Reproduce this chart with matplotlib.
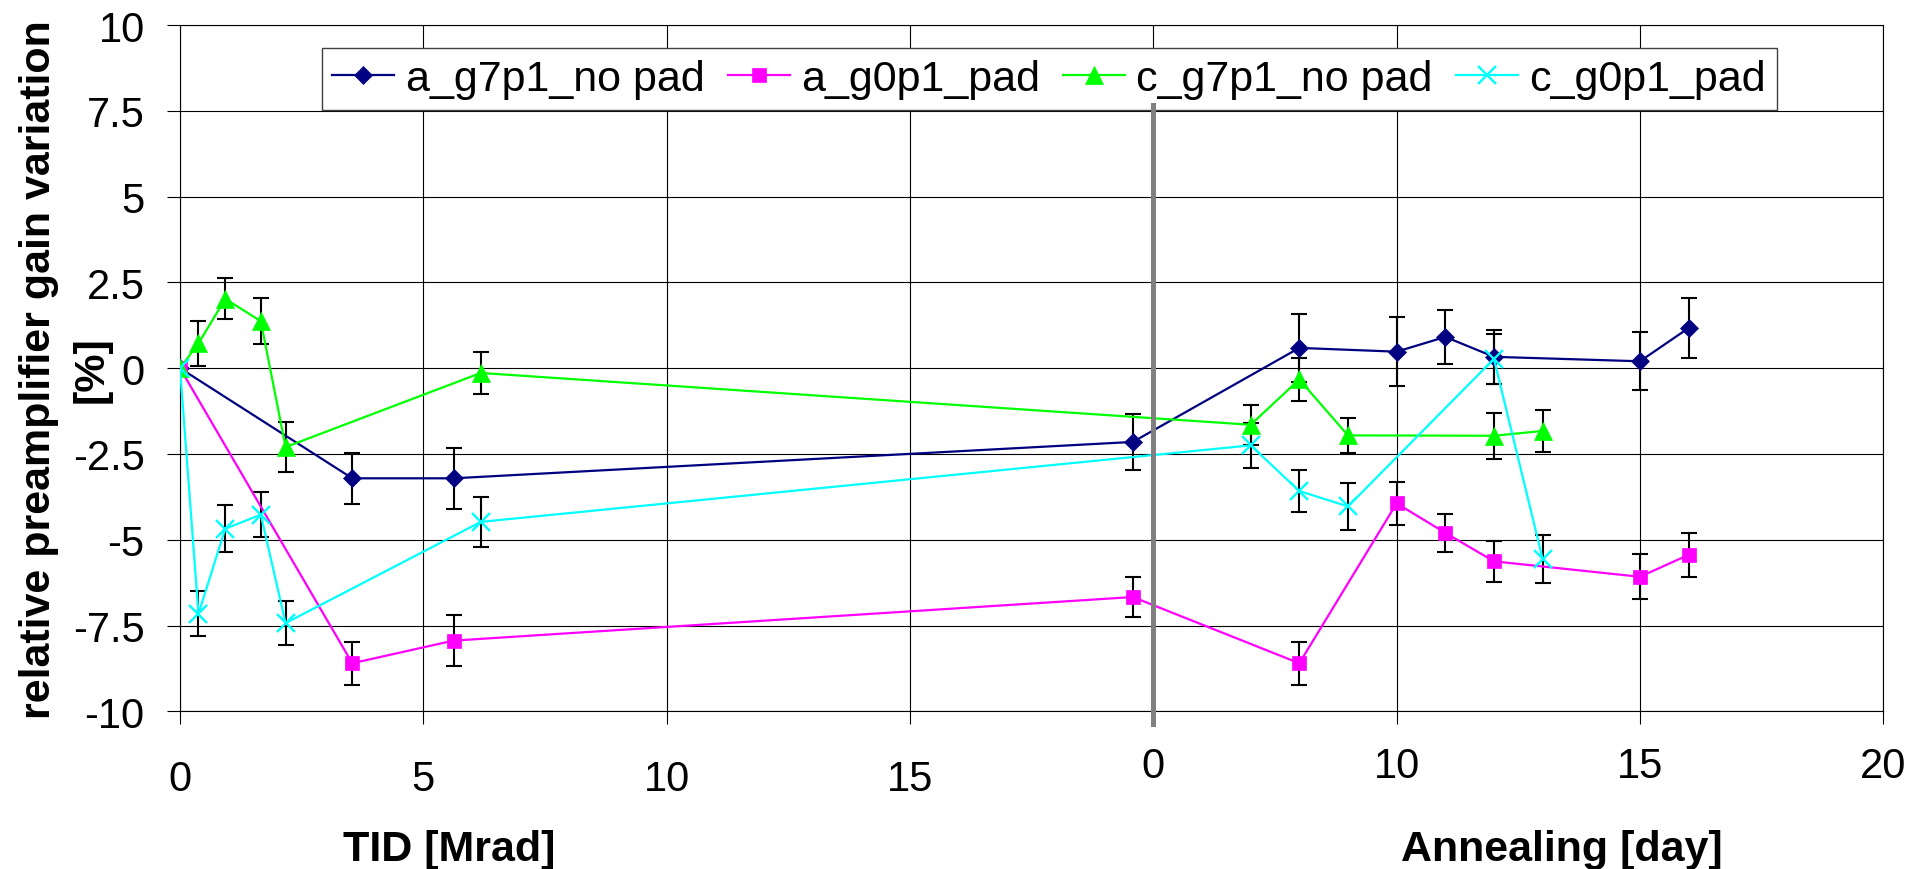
import numpy as np
import matplotlib
matplotlib.use('Agg')
import matplotlib.pyplot as plt

plt.rcParams['font.family'] = ['Liberation Sans', 'DejaVu Sans']

# ---------------- data ----------------
# TID section: x in Mrad ; annealing section: x in days
tid_a7 = [0, 3.54, 5.62, 19.58]
val_a7_tid = [0, -3.21, -3.21, -2.15]
err_a7_tid = [0, 0.75, 0.89, 0.82]
day_a7 = [8, 10, 11, 12, 15, 16]
val_a7_day = [0.59, 0.48, 0.91, 0.33, 0.20, 1.17]
err_a7_day = [1.0, 1.0, 0.79, 0.78, 0.85, 0.88]

tid_a0 = [0, 3.54, 5.62, 19.58]
val_a0_tid = [0, -8.60, -7.94, -6.67]
err_a0_tid = [0, 0.62, 0.75, 0.59]
day_a0 = [8, 10, 11, 12, 15, 16]
val_a0_day = [-8.60, -3.94, -4.80, -5.63, -6.08, -5.44]
err_a0_day = [0.63, 0.63, 0.56, 0.59, 0.66, 0.65]

tid_c7 = [0, 0.38, 0.93, 1.66, 2.17, 6.18]
val_c7_tid = [0, 0.72, 2.02, 1.37, -2.30, -0.14]
err_c7_tid = [0, 0.66, 0.60, 0.67, 0.72, 0.60]
day_c7 = [7, 8, 9, 12, 13]
val_c7_day = [-1.65, -0.33, -1.96, -1.97, -1.83]
err_c7_day = [0.59, 0.62, 0.52, 0.67, 0.62]

tid_c0 = [0, 0.38, 0.93, 1.66, 2.17, 6.18]
val_c0_tid = [0, -7.16, -4.68, -4.27, -7.43, -4.48]
err_c0_tid = [0, 0.66, 0.69, 0.66, 0.63, 0.72]
day_c0 = [7, 8, 9, 12, 13]
val_c0_day = [-2.25, -3.58, -4.03, 0.27, -5.56]
err_c0_day = [0.65, 0.62, 0.69, 0.73, 0.71]

labels = ['a_g7p1_no pad', 'a_g0p1_pad', 'c_g7p1_no pad', 'c_g0p1_pad']

tid_ticks = [0, 5, 10, 15]
tid_tick_labels = ['0', '5', '10', '15']
anneal_ticks = [5, 10, 15, 20]
anneal_tick_labels = ['0', '10', '15', '20']
y_ticks = [-10, -7.5, -5, -2.5, 0, 2.5, 5, 7.5, 10]

# ---------------- layout constants ----------------
ANNEAL_OFFSET = 15      # annealing day d is drawn at axis position d + 15
SECTION_BOUNDARY = 20   # thick separator between the two sections
X_MAX = 35

styles = [
    dict(color='#000080', marker='D', ms=9.5, mfc='#000080', mec='#000080', mew=0.5),
    dict(color='#FF00FF', marker='s', ms=10.5, mfc='#FF00FF', mec='#FF00FF', mew=0.5),
    dict(color='#00FF00', marker='^', ms=13, mfc='#00FF00', mec='#00FF00', mew=0.5),
    dict(color='#00FFFF', marker='x', ms=12.5, mfc='#00FFFF', mec='#00FFFF', mew=1.7),
]

series = [
    (tid_a7, val_a7_tid, err_a7_tid, day_a7, val_a7_day, err_a7_day),
    (tid_a0, val_a0_tid, err_a0_tid, day_a0, val_a0_day, err_a0_day),
    (tid_c7, val_c7_tid, err_c7_tid, day_c7, val_c7_day, err_c7_day),
    (tid_c0, val_c0_tid, err_c0_tid, day_c0, val_c0_day, err_c0_day),
]

W, H = 1926, 870
fig = plt.figure(figsize=(W / 100, H / 100), dpi=100)
left, right, top, bottom = 180.0, 1883.3, 26.0, 712.3
ax = fig.add_axes([left / W, 1 - bottom / H, (right - left) / W, (bottom - top) / H])

ax.set_xlim(0, X_MAX)
ax.set_ylim(-10, 10)
all_x_ticks = list(range(0, X_MAX + 1, 5))
ax.set_xticks(all_x_ticks)
ax.set_xticklabels([tid_tick_labels[tid_ticks.index(t)] if t in tid_ticks else '' for t in all_x_ticks])
ax.set_yticks(y_ticks)
ax.set_yticklabels([f'{v:g}' for v in y_ticks])
ax.grid(True, color='black', lw=0.8)
ax.set_axisbelow(True)
ax.tick_params(axis='both', direction='out', length=9.4, width=0.8, labelsize=30, colors='black')
ax.tick_params(axis='x', pad=25)
ax.tick_params(axis='y', pad=16)
for sp in ax.spines.values():
    sp.set_linewidth(0.8)
    sp.set_color('black')

for (tx, ty, te, dx, dy, de), st, lab in zip(series, styles, labels):
    x = np.concatenate([np.asarray(tx, float), np.asarray(dx, float) + ANNEAL_OFFSET])
    y = np.concatenate([np.asarray(ty, float), np.asarray(dy, float)])
    e = np.concatenate([np.asarray(te, float), np.asarray(de, float)])
    ax.errorbar(x, y, yerr=e, fmt='none', ecolor='black', elinewidth=1.5,
                capsize=6, capthick=1.5, zorder=3)
    ax.plot(x, y, lw=1.6, label=lab, zorder=4, **st)

leg = ax.legend(loc='upper left', bbox_to_anchor=(321.7 / W, 1 - 49.3 / H),
                bbox_transform=fig.transFigure, ncol=4, fontsize=31, frameon=True,
                fancybox=False, edgecolor='#404040', framealpha=1, borderpad=0.25,
                handlelength=1.44, handletextpad=0.26, columnspacing=0.54,
                borderaxespad=0, numpoints=1)
leg.get_frame().set_linewidth(1.0)
leg.set_zorder(10)

ax.axvline(SECTION_BOUNDARY, ymin=-13 / (bottom - top), ymax=(bottom - 106) / (bottom - top),
           color='#808080', lw=3.6, clip_on=False, zorder=11)

sec = ax.secondary_xaxis('bottom', functions=(lambda u: u - ANNEAL_OFFSET,
                                              lambda d: d + ANNEAL_OFFSET))
sec.set_xticks(anneal_ticks)
sec.set_xticklabels(anneal_tick_labels)
sec.tick_params(length=0, labelsize=30, pad=25, colors='black')
sec.spines['bottom'].set_visible(False)
sec.set_xlabel('Annealing [day]', fontsize=31, fontweight='bold')
sec.xaxis.set_label_coords(0.811, -0.1715, transform=ax.transAxes)

ax.set_xlabel('TID [Mrad]', fontsize=31, fontweight='bold')
ax.xaxis.set_label_coords(0.1583, -0.1715)

# two-line y-axis title: main line as the axis label, unit line as a second text
ax.set_ylabel('relative preamplifier gain variation', fontsize=31, fontweight='bold')
ax.yaxis.set_label_coords(-0.0710, 0.5)
ax.text(-0.0401, 0.5, '[%]', transform=ax.transAxes, rotation=90,
        rotation_mode='anchor', ha='center', va='bottom',
        fontsize=31, fontweight='bold')

fig.savefig('out.png', dpi=100)
